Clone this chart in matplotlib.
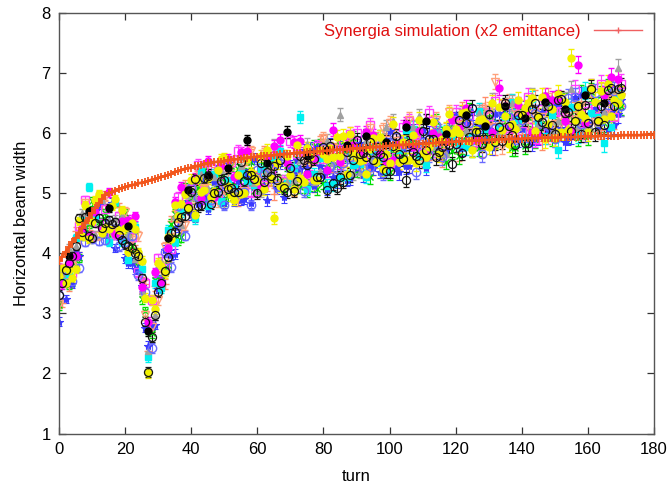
import numpy as np
import matplotlib
matplotlib.use("Agg")
import matplotlib.pyplot as plt
from matplotlib.lines import Line2D

plt.rcParams['font.family'] = ['Liberation Sans', 'DejaVu Sans']

# ---------------- simulation (one value per turn, 0..180) ----------------
sim_width = [
    3.86, 3.94, 4.02, 4.10, 4.18, 4.25, 4.33, 4.42, 4.50, 4.58,
    4.67, 4.75, 4.83, 4.90, 4.97, 5.00, 5.02, 5.04, 5.06, 5.08,
    5.10, 5.11, 5.13, 5.14, 5.16, 5.17, 5.18, 5.20, 5.22, 5.23,
    5.25, 5.27, 5.28, 5.30, 5.32, 5.35, 5.36, 5.38, 5.40, 5.41,
    5.42, 5.44, 5.45, 5.47, 5.48, 5.49, 5.50, 5.51, 5.52, 5.52,
    5.53, 5.54, 5.55, 5.56, 5.56, 5.57, 5.58, 5.58, 5.59, 5.60,
    5.60, 5.61, 5.61, 5.62, 5.62, 5.63, 5.63, 5.64, 5.64, 5.65,
    5.65, 5.66, 5.66, 5.67, 5.67, 5.68, 5.68, 5.68, 5.69, 5.69,
    5.70, 5.70, 5.71, 5.71, 5.72, 5.72, 5.72, 5.73, 5.73, 5.74,
    5.74, 5.74, 5.75, 5.75, 5.76, 5.76, 5.76, 5.77, 5.77, 5.78,
    5.78, 5.79, 5.79, 5.80, 5.80, 5.80, 5.81, 5.81, 5.81, 5.82,
    5.82, 5.82, 5.83, 5.83, 5.83, 5.84, 5.84, 5.84, 5.85, 5.85,
    5.85, 5.86, 5.86, 5.86, 5.87, 5.87, 5.87, 5.87, 5.88, 5.88,
    5.88, 5.88, 5.89, 5.89, 5.89, 5.89, 5.90, 5.90, 5.90, 5.90,
    5.90, 5.91, 5.91, 5.91, 5.91, 5.91, 5.92, 5.92, 5.92, 5.92,
    5.92, 5.92, 5.93, 5.93, 5.93, 5.93, 5.93, 5.93, 5.94, 5.94,
    5.94, 5.94, 5.94, 5.94, 5.95, 5.95, 5.95, 5.95, 5.95, 5.95,
    5.96, 5.96, 5.96, 5.96, 5.96, 5.96, 5.96, 5.97, 5.97, 5.97, 5.97,
]

# ---------------- measured widths ----------------
# every turn 0..170
meas_plus = [
    3.18, 3.17, 3.56, 3.44, 3.89, 4.36, 3.95, 4.42, 4.46, 4.38,
    4.59, 4.86, 4.96, 4.80, 4.96, 4.46, 4.36, 4.40, 4.76, 4.38,
    4.47, 4.08, 4.32, 4.06, 3.83, 3.53, 3.48, 2.38, 2.80, 3.45,
    3.81, 3.69, 3.49, 3.85, 4.53, 4.70, 4.51, 4.39, 5.13, 5.05,
    4.64, 5.09, 5.37, 4.92, 5.43, 5.46, 5.00, 5.34, 5.20, 4.90,
    4.84, 5.25, 5.50, 5.03, 4.88, 5.61, 5.46, 5.23, 5.64, 5.25,
    5.26, 5.35, 5.68, 5.13, 5.22, 4.99, 5.56, 5.65, 5.10, 5.51,
    5.36, 5.05, 5.54, 5.23, 5.72, 5.57, 5.26, 5.11, 5.76, 5.85,
    5.86, 5.79, 5.64, 5.34, 5.83, 5.20, 5.45, 5.54, 5.88, 5.41,
    5.66, 5.51, 5.61, 5.46, 5.39, 5.41, 5.90, 5.35, 5.85, 5.94,
    6.11, 6.04, 5.57, 5.50, 5.75, 6.08, 5.45, 6.10, 5.95, 5.88,
    5.57, 5.74, 5.67, 6.16, 5.69, 5.78, 5.55, 6.04, 6.05, 5.90,
    6.21, 5.66, 6.39, 5.92, 6.33, 6.02, 6.03, 6.20, 5.73, 6.46,
    6.15, 6.16, 5.76, 6.17, 6.42, 5.94, 5.95, 6.04, 5.88, 6.37,
    5.98, 6.23, 6.07, 6.24, 6.57, 6.18, 5.86, 6.51, 5.96, 6.05,
    6.54, 6.23, 6.56, 6.01, 6.02, 6.03, 6.52, 6.29, 6.38, 5.99,
    6.16, 6.65, 6.34, 6.11, 6.04, 6.21, 6.63, 6.10, 6.21, 6.88,
    6.44,
]
meas_x = [
    3.13, 3.68, 3.59, 3.47, 3.52, 3.78, 3.92, 4.29, 4.41, 4.49,
    4.86, 4.65, 4.51, 4.51, 4.67, 4.33, 4.31, 4.83, 4.39, 4.65,
    4.66, 4.27, 4.11, 4.41, 3.78, 3.24, 3.03, 2.73, 2.67, 3.56,
    3.52, 3.56, 3.76, 3.80, 4.48, 4.65, 4.22, 4.26, 5.08, 5.00,
    4.91, 5.04, 5.08, 5.03, 5.38, 4.93, 4.95, 5.05, 5.07, 5.25,
    4.87, 4.96, 5.45, 5.14, 5.39, 5.24, 5.33, 5.18, 5.51, 5.04,
    5.13, 5.14, 5.47, 5.56, 5.41, 5.50, 5.59, 5.20, 5.05, 5.46,
    5.39, 5.16, 5.57, 5.10, 5.19, 5.04, 5.13, 5.78, 5.07, 5.80,
    5.17, 5.42, 5.51, 5.61, 5.46, 5.79, 5.56, 5.65, 5.67, 5.92,
    5.37, 5.46, 5.56, 5.73, 5.26, 5.52, 5.61, 5.94, 5.80, 5.41,
    5.34, 5.67, 5.76, 5.69, 5.62, 5.55, 5.88, 5.89, 5.74, 6.07,
    5.60, 5.53, 5.70, 5.71, 6.20, 5.73, 5.98, 5.51, 6.08, 5.69,
    6.08, 5.61, 5.78, 5.95, 6.36, 5.73, 5.98, 5.75, 5.84, 6.25,
    5.94, 6.27, 5.87, 6.04, 6.13, 6.37, 6.30, 5.75, 5.75, 6.24,
    6.25, 5.78, 6.26, 6.03, 5.88, 6.21, 6.21, 6.46, 6.47, 5.92,
    6.41, 6.18, 6.51, 6.52, 5.97, 6.30, 6.07, 5.92, 6.65, 6.10,
    5.95, 6.68, 6.45, 6.14, 6.63, 6.16, 6.74, 6.21, 6.48, 6.43,
    6.45,
]
meas_star = [
    2.86, 3.73, 3.24, 3.84, 3.49, 3.96, 3.95, 4.34, 4.30, 4.30,
    4.59, 4.70, 4.80, 4.88, 4.32, 4.54, 4.84, 4.08, 4.28, 4.46,
    3.91, 3.84, 3.84, 3.74, 3.75, 3.45, 2.76, 2.46, 2.80, 2.81,
    3.41, 3.53, 4.05, 4.25, 3.97, 3.98, 4.43, 4.71, 4.81, 4.81,
    4.64, 4.61, 4.81, 5.24, 4.95, 4.74, 5.00, 5.18, 5.44, 5.14,
    4.84, 5.49, 5.10, 4.87, 5.20, 4.89, 4.90, 5.31, 4.84, 5.57,
    5.18, 5.11, 5.12, 4.89, 5.30, 5.47, 5.08, 5.49, 4.94, 5.19,
    5.44, 5.37, 5.54, 5.39, 5.72, 5.41, 5.74, 5.11, 5.76, 5.45,
    5.30, 5.07, 5.80, 5.26, 5.19, 5.76, 5.61, 5.22, 5.24, 5.73,
    5.42, 5.83, 5.29, 5.94, 5.47, 5.41, 5.74, 5.35, 5.37, 5.86,
    6.03, 5.56, 5.41, 5.34, 5.75, 5.44, 5.45, 6.02, 5.79, 5.72,
    6.05, 5.42, 5.99, 5.76, 5.77, 5.94, 5.63, 5.72, 6.05, 6.22,
    6.29, 6.06, 5.75, 6.16, 5.93, 6.34, 6.03, 6.12, 6.21, 5.90,
    6.07, 5.76, 6.32, 6.33, 6.10, 6.26, 6.11, 5.88, 6.28, 5.89,
    6.06, 6.39, 6.47, 5.84, 5.93, 5.94, 6.34, 6.51, 6.04, 6.45,
    5.90, 6.47, 6.08, 5.85, 5.94, 5.95, 6.60, 6.21, 6.62, 5.99,
    6.16, 6.33, 6.42, 6.11, 6.68, 6.37, 6.07, 6.34, 6.13, 6.32,
    6.55,
]
meas_yellow = [
    3.62, 3.75, 3.50, 3.72, 3.59, 3.74, 4.53, 4.28, 4.80, 4.24,
    4.53, 4.88, 4.98, 4.34, 4.42, 4.40, 4.78, 4.90, 4.38, 4.72,
    4.41, 4.02, 4.50, 4.40, 4.01, 3.87, 3.26, 2.00, 3.22, 3.07,
    3.83, 3.79, 3.67, 4.27, 4.23, 4.80, 4.61, 4.81, 4.99, 4.75,
    5.22, 4.63, 5.23, 5.02, 5.05, 5.24, 4.94, 5.04, 5.38, 5.56,
    5.58, 5.11, 4.96, 4.89, 5.30, 4.99, 5.00, 5.57, 5.34, 5.27,
    5.20, 5.61, 5.06, 5.71, 5.24, 4.58, 5.50, 5.11, 5.12, 5.61,
    5.30, 5.07, 5.80, 5.25, 5.18, 5.75, 5.60, 5.21, 5.22, 5.71,
    5.64, 5.57, 5.74, 5.60, 5.93, 5.62, 5.95, 5.32, 5.98, 5.67,
    5.60, 5.53, 5.55, 5.32, 5.73, 5.91, 5.52, 5.93, 5.39, 5.64,
    5.49, 6.14, 5.75, 5.52, 5.85, 5.54, 5.55, 5.96, 5.49, 6.22,
    5.67, 5.60, 5.77, 6.18, 5.87, 5.64, 5.89, 6.06, 6.31, 6.00,
    6.07, 6.00, 6.33, 6.34, 5.87, 5.72, 6.05, 6.22, 6.23, 6.16,
    5.77, 6.50, 5.86, 6.43, 6.04, 6.28, 5.81, 6.14, 6.06, 6.55,
    6.32, 6.41, 6.49, 6.58, 6.03, 6.28, 6.60, 5.89, 6.14, 6.39,
    5.92, 6.65, 6.02, 6.51, 6.04, 7.25, 6.22, 6.47, 6.32, 6.25,
    6.02, 6.75, 6.52, 6.21, 6.70, 6.23, 6.81, 6.28, 6.55, 6.50,
    6.62,
]
meas_ocirc_k = [
    3.31, 3.50, 3.72, 3.84, 3.95, 4.12, 4.58, 4.35, 4.60, 4.29,
    4.25, 4.50, 4.58, 4.42, 4.50, 4.55, 4.48, 4.52, 4.30, 4.22,
    4.15, 4.11, 4.08, 4.00, 3.95, 3.58, 2.86, 2.02, 2.60, 2.97,
    3.35, 3.50, 3.70, 3.94, 4.33, 4.35, 4.52, 4.60, 4.62, 4.75,
    5.02, 5.23, 4.78, 4.80, 5.25, 5.28, 4.82, 5.00, 5.02, 5.20,
    5.22, 5.07, 5.08, 5.01, 5.02, 5.51, 5.20, 5.29, 5.30, 5.23,
    5.00, 5.49, 5.18, 5.35, 5.28, 5.45, 5.22, 5.55, 5.08, 5.01,
    5.42, 5.03, 5.20, 5.61, 5.54, 5.47, 5.64, 5.57, 5.26, 5.27,
    5.76, 5.05, 5.78, 5.16, 5.09, 5.26, 5.19, 5.68, 5.30, 5.55,
    5.88, 5.65, 5.67, 5.60, 5.85, 5.55, 5.72, 5.65, 5.59, 5.36,
    5.37, 5.78, 5.95, 5.64, 5.57, 5.22, 5.83, 5.68, 5.61, 5.54,
    6.03, 5.72, 5.89, 5.90, 5.59, 5.68, 5.77, 5.86, 5.79, 5.48,
    5.81, 6.22, 5.67, 6.16, 5.93, 6.42, 6.01, 6.02, 5.81, 5.90,
    6.31, 5.92, 5.84, 6.09, 5.86, 6.50, 6.11, 5.96, 5.80, 6.29,
    6.30, 5.83, 5.83, 6.40, 6.49, 6.26, 6.18, 6.03, 6.44, 6.13,
    5.98, 6.55, 6.56, 6.33, 6.34, 6.03, 6.20, 6.45, 5.98, 6.47,
    6.16, 6.73, 6.02, 6.19, 6.44, 6.13, 6.71, 6.74, 6.45, 6.72,
    6.75,
]
# even turns 0..170
meas_osq = [
    3.76, 3.66, 3.67, 4.45, 4.88, 4.29, 4.50, 4.74, 4.30, 4.62,
    4.49, 4.26, 3.69, 3.50, 3.22, 3.91, 3.75, 4.07, 4.93, 4.75,
    5.06, 5.47, 5.05, 5.42, 4.98, 5.18, 5.52, 5.70, 5.08, 5.02,
    5.04, 5.14, 5.32, 5.66, 5.20, 5.86, 5.64, 5.58, 5.28, 5.78,
    5.56, 5.74, 5.69, 5.87, 5.98, 6.00, 5.55, 6.13, 5.68, 5.63,
    5.49, 5.59, 6.09, 6.19, 5.97, 5.67, 6.33, 5.71, 5.89, 5.99,
    6.34, 6.20, 6.30, 5.84, 6.34, 6.28, 6.53, 6.07, 6.08, 6.25,
    6.03, 6.60, 5.90, 6.39, 6.01, 6.35, 6.37, 6.23, 6.73, 6.03,
    6.37, 6.39, 6.81, 6.44, 6.26, 6.81,
]
meas_otri_dn = [
    3.15, 3.69, 3.78, 4.24, 4.83, 4.56, 4.29, 4.93, 4.33, 4.33,
    4.68, 4.21, 4.28, 2.97, 2.77, 3.22, 4.10, 4.26, 4.64, 4.46,
    4.77, 5.34, 5.08, 4.89, 4.85, 5.05, 5.47, 4.93, 5.03, 5.69,
    5.23, 5.65, 5.43, 5.21, 5.15, 5.17, 5.11, 5.53, 5.55, 5.57,
    5.91, 5.69, 5.56, 5.58, 5.77, 5.47, 5.50, 6.08, 5.71, 6.06,
    6.16, 5.86, 5.80, 6.22, 5.76, 5.54, 5.80, 6.22, 5.68, 6.34,
    6.13, 5.99, 6.01, 5.87, 6.37, 6.39, 6.85, 5.78, 6.51, 6.36,
    6.22, 6.31, 6.33, 6.26, 6.60, 6.14, 6.16, 6.26, 6.28, 6.46,
    6.08, 6.18, 6.68, 6.39, 6.69, 6.60,
]
meas_ocirc_b = [
    3.30, 3.60, 3.53, 3.75, 4.18, 4.23, 4.20, 4.22, 4.40, 4.11,
    4.19, 4.28, 3.63, 3.36, 2.42, 3.69, 4.01, 3.77, 4.79, 4.29,
    5.08, 4.93, 4.91, 4.88, 5.08, 4.80, 5.06, 5.00, 5.02, 4.80,
    5.38, 5.32, 5.26, 5.12, 5.62, 5.40, 5.34, 5.04, 5.22, 5.64,
    5.74, 5.44, 5.39, 5.49, 5.60, 5.70, 5.41, 5.43, 5.62, 5.33,
    5.83, 5.93, 5.79, 5.81, 5.35, 5.85, 5.63, 6.13, 5.59, 6.01,
    5.81, 6.31, 6.17, 6.03, 5.65, 6.31, 6.08, 6.34, 6.27, 5.88,
    6.22, 5.91, 6.33, 6.18, 6.12, 5.90, 6.00, 6.58, 6.60, 6.14,
    6.16, 6.66, 6.20, 6.47, 6.69, 6.44,
]
# odd turns 1..169
meas_fsq_c = [
    3.62, 3.65, 4.25, 4.55, 5.10, 4.59, 4.37, 4.19, 4.85, 4.19,
    3.89, 4.43, 3.74, 2.27, 3.50, 3.42, 4.38, 4.19, 4.68, 4.78,
    4.58, 5.37, 4.79, 5.31, 4.87, 5.22, 5.08, 5.34, 5.20, 5.14,
    5.40, 5.50, 5.60, 5.70, 5.16, 5.41, 6.27, 5.06, 5.32, 5.58,
    5.12, 5.15, 5.25, 5.27, 5.46, 5.48, 5.27, 5.70, 5.56, 5.35,
    5.77, 5.71, 6.05, 6.07, 5.61, 5.47, 5.81, 5.99, 6.01, 5.95,
    5.82, 5.76, 5.94, 6.36, 6.06, 5.84, 6.09, 6.26, 6.52, 6.21,
    5.91, 6.56, 6.18, 5.95, 6.29, 5.72, 6.01, 6.43, 5.97, 6.71,
    6.33, 6.27, 5.83, 6.10, 6.56,
]
meas_fcirc_m = [
    3.48, 3.83, 3.95, 4.41, 4.29, 4.69, 4.39, 5.01, 4.31, 4.53,
    4.55, 4.61, 3.44, 2.85, 3.68, 3.52, 4.08, 4.85, 5.10, 4.80,
    5.24, 4.91, 5.53, 4.93, 5.45, 5.56, 5.26, 5.68, 5.70, 5.24,
    5.10, 5.60, 5.78, 5.88, 5.50, 5.84, 5.86, 5.32, 5.58, 5.68,
    5.38, 6.05, 5.51, 5.77, 5.80, 5.66, 6.01, 5.96, 5.66, 5.53,
    5.55, 5.81, 6.15, 5.77, 6.03, 5.65, 5.99, 5.93, 5.87, 6.21,
    6.08, 6.42, 5.88, 5.90, 6.16, 6.02, 6.75, 6.44, 6.06, 6.47,
    6.33, 6.02, 5.96, 6.61, 6.55, 6.57, 6.19, 6.05, 7.13, 6.17,
    6.75, 6.21, 6.63, 6.92, 6.90,
]
meas_ftri_up = [
    3.65, 4.08, 4.12, 4.66, 4.54, 4.30, 4.88, 4.54, 4.56, 4.62,
    4.32, 3.90, 3.37, 2.38, 2.97, 3.85, 4.33, 4.62, 4.47, 4.97,
    4.93, 5.32, 5.06, 5.26, 5.38, 5.41, 5.03, 5.45, 5.55, 5.17,
    5.03, 5.37, 5.79, 5.65, 5.19, 5.21, 5.55, 5.81, 5.19, 5.37,
    5.87, 5.50, 6.30, 5.78, 5.33, 5.35, 5.86, 5.57, 5.75, 6.10,
    6.20, 5.82, 5.60, 6.10, 6.28, 5.58, 5.76, 6.02, 5.64, 6.06,
    6.11, 6.05, 5.75, 6.33, 6.27, 6.53, 5.98, 5.91, 6.49, 6.10,
    6.28, 6.61, 6.15, 6.48, 6.02, 6.20, 6.54, 6.72, 6.10, 6.04,
    6.06, 6.16, 6.34, 6.71, 7.08,
]
# every sixth turn 3..165
meas_fcirc_k = [
    3.95, 4.70, 4.75, 4.45, 2.70, 4.25, 5.05, 5.30, 5.42, 5.88,
    5.50, 6.01, 5.62, 5.72, 5.80, 5.95, 5.85, 6.10, 6.20, 5.98,
    6.30, 6.12, 6.45, 6.25, 6.52, 6.40, 6.62, 6.50,
]

# error bar half-size for each block of ten turns
err_by_decade = [0.07, 0.07, 0.08, 0.08, 0.09, 0.09, 0.10, 0.10, 0.11,
                 0.11, 0.12, 0.12, 0.13, 0.13, 0.14, 0.14, 0.15, 0.16]

x_ticks = [0, 20, 40, 60, 80, 100, 120, 140, 160, 180]
y_ticks = [1, 2, 3, 4, 5, 6, 7, 8]


def every_turn(v):
    return np.arange(len(v))


def even_turns(v):
    return 2 * np.arange(len(v))


def odd_turns(v):
    return 1 + 2 * np.arange(len(v))


def sixth_turns(v):
    return 3 + 6 * np.arange(len(v))


# (values, turn sampler, colour, marker, filled, marker size, edge width)
series = [
    (meas_plus, every_turn, '#ff8c69', '+', True, 6, 1.0),
    (meas_x, every_turn, '#00dd00', 'x', True, 5, 1.0),
    (meas_star, every_turn, '#3a3aff', '*', True, 6, 0.8),
    (meas_osq, even_turns, '#ff40ff', 's', False, 6, 1.0),
    (meas_otri_dn, even_turns, '#ffa07a', 'v', False, 6, 1.0),
    (meas_fsq_c, odd_turns, '#00f0f0', 's', True, 5, 1.0),
    (meas_ftri_up, odd_turns, '#a0a0a0', '^', True, 5, 1.0),
    (meas_ocirc_b, even_turns, '#6a6aff', 'o', False, 6, 1.0),
    (meas_fcirc_m, odd_turns, '#ff00ff', 'o', True, 5, 1.0),
    (meas_yellow, every_turn, '#f2f200', 'o', True, 5, 1.0),
    (meas_fcirc_k, sixth_turns, '#000000', 'o', True, 5, 1.0),
    (meas_ocirc_k, every_turn, '#151515', 'o', False, 5.8, 0.9),
]

fig = plt.figure(figsize=(6.68, 4.87), dpi=100)
ax = fig.add_axes([59 / 668, 1 - 433.5 / 487, 595 / 668, 421 / 487])

for vals, sampler, col, mk, filled, ms, mew in series:
    v = np.asarray(vals, dtype=float)
    t = sampler(v)
    err = np.asarray(err_by_decade)[np.minimum(t // 10, len(err_by_decade) - 1)]
    ax.errorbar(t, v, yerr=err, fmt=mk, color=col, ecolor=col,
                elinewidth=0.8, capsize=2.5, capthick=0.8,
                markersize=ms, markeredgewidth=mew,
                markerfacecolor=col if filled else 'none',
                markeredgecolor=col, zorder=2)

sim_turns = np.arange(len(sim_width))
ax.plot(sim_turns, sim_width, color='#f2561c', lw=2.0, marker='+',
        markersize=5.5, markeredgewidth=1.3, zorder=5)

ax.set_xlim(0, 180)
ax.set_ylim(1, 8)
ax.set_xticks(x_ticks)
ax.set_yticks(y_ticks)
ax.tick_params(direction='in', length=5, width=0.9, top=True, right=True,
               labelsize=12, colors='#333333', labelcolor='black', pad=6)
for sp in ax.spines.values():
    sp.set_color('#555555')
    sp.set_linewidth(1.0)

ax.set_xlabel('turn', fontsize=12, labelpad=9)
ax.set_ylabel('Horizontal beam width', fontsize=12, labelpad=9)

handle = Line2D([], [], color='#f06060', lw=1.0, marker='+', markersize=5,
                markeredgewidth=1.0)
leg = ax.legend([handle], ['Synergia simulation (x2 emittance)'],
                loc='upper right', frameon=False, fontsize=12,
                handlelength=2.9, handletextpad=0.8, markerfirst=False,
                borderaxespad=0.3)
for txt in leg.get_texts():
    txt.set_color('#e01010')

fig.savefig('out.png', dpi=100)
